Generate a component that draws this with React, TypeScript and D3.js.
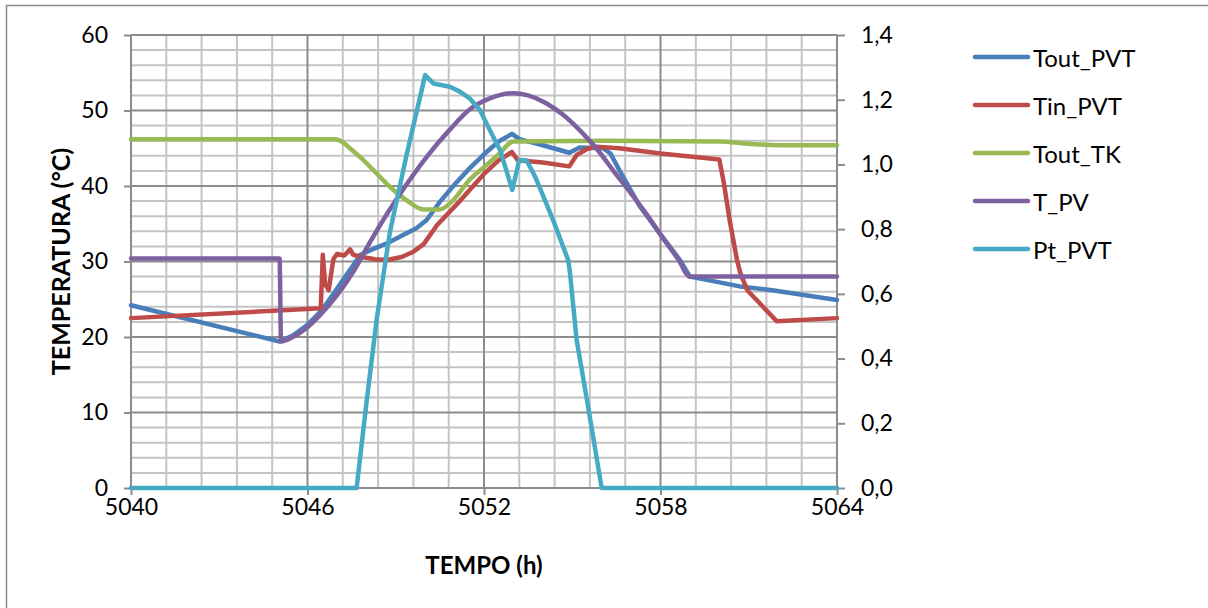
import * as d3 from "d3";
import React, { useRef, useEffect } from "react";

// series: hours + values
const toutPvtHours = [5040, 5045.05, 5045.5, 5046, 5046.5, 5047, 5047.5, 5047.8, 5048.2, 5048.7, 5049.2, 5049.7, 5050.05, 5050.5, 5051, 5051.5, 5052, 5052.5, 5052.95, 5053.2, 5054, 5054.9, 5055.25, 5056.05, 5056.3, 5056.6, 5057.3, 5058, 5058.66, 5059, 5060.7, 5061.8, 5064];
const toutPvtValues = [24.2, 19.4, 20.2, 21.6, 23.6, 26.4, 29.2, 30.9, 31.6, 32.4, 33.4, 34.4, 35.5, 37.9, 40.2, 42.3, 44.2, 45.9, 46.9, 46.2, 45.4, 44.4, 45.1, 45.0, 44.3, 42.1, 37.3, 33.6, 30.2, 28.0, 26.7, 26.2, 24.9];

const tinPvtHours = [5040, 5046.45, 5046.52, 5046.6, 5046.72, 5046.88, 5047, 5047.25, 5047.45, 5047.55, 5047.85, 5048.3, 5048.7, 5049.2, 5049.6, 5049.95, 5050.4, 5051.2, 5051.52, 5052, 5052.5, 5052.95, 5053.15, 5054, 5054.9, 5055.15, 5055.5, 5055.8, 5056.6, 5058, 5060, 5060.15, 5060.35, 5060.6, 5060.72, 5060.95, 5061.95, 5064];
const tinPvtValues = [22.5, 23.8, 30.9, 27.0, 26.2, 30.3, 31.0, 30.8, 31.6, 30.9, 30.6, 30.3, 30.2, 30.6, 31.3, 32.3, 34.8, 38.1, 39.5, 41.6, 43.4, 44.5, 43.4, 43.1, 42.6, 44.1, 44.9, 45.2, 45.0, 44.3, 43.5, 40.5, 35.5, 30.2, 28.4, 26.2, 22.1, 22.5];

const toutTkHours = [5040, 5046.95, 5047.2, 5047.5, 5047.8, 5048.24, 5048.8, 5049.37, 5049.94, 5050.5, 5050.95, 5051.5, 5052, 5052.5, 5053, 5056, 5060, 5061, 5062, 5064];
const toutTkValues = [46.2, 46.2, 45.8, 44.8, 43.8, 42.1, 39.9, 38.1, 36.9, 36.9, 38.1, 40.8, 42.5, 44.2, 45.9, 46.0, 45.9, 45.6, 45.4, 45.4];

const tPvHours = [5040, 5045.05, 5045.1, 5045.5, 5046, 5046.4, 5047, 5047.55, 5048.1, 5048.7, 5049.4, 5050.1, 5050.8, 5051.5, 5052.2, 5053, 5053.5, 5054.1, 5054.7, 5055.3, 5055.9, 5056.4, 5057, 5057.5, 5058.1, 5058.6, 5059, 5064];
const tPvValues = [30.4, 30.4, 19.4, 20.0, 21.3, 22.8, 25.5, 28.6, 32.4, 36.3, 40.4, 44.1, 47.3, 50.1, 51.6, 52.3, 52.0, 51.0, 49.4, 47.2, 44.6, 42.0, 39.0, 36.4, 33.0, 30.3, 28.0, 28.0];

const ptPvtHours = [5040, 5047.67, 5048, 5048.35, 5048.8, 5049.37, 5050, 5050.28, 5050.84, 5051.18, 5051.5, 5051.86, 5052.2, 5052.55, 5052.96, 5053.2, 5053.45, 5053.75, 5054.35, 5054.86, 5054.92, 5055.15, 5055.5, 5056, 5064];
const ptPvtValues = [0, 0, 0.26, 0.52, 0.79, 1.03, 1.276, 1.25, 1.24, 1.225, 1.205, 1.168, 1.106, 1.044, 0.921, 1.014, 1.012, 0.96, 0.828, 0.705, 0.668, 0.457, 0.272, 0, 0];

const seriesNames = ["Tout_PVT", "Tin_PVT", "Tout_TK", "T_PV", "Pt_PVT"];
const xTicks = [5040, 5046, 5052, 5058, 5064];
const leftTicks = [0, 10, 20, 30, 40, 50, 60];
const rightTicks = [0, 0.2, 0.4, 0.6, 0.8, 1.0, 1.2, 1.4];

const colors = ["#4a7ebb", "#be4b48", "#98b954", "#7d60a0", "#46aac5"];
const font = "Lato, 'Open Sans', sans-serif";

export default function App() {
  const ref = useRef<SVGSVGElement>(null);

  useEffect(() => {
    const width = 1208, height = 608;
    const margin = { left: 131, right: 371, top: 35, bottom: 120 };
    const svg = d3.select(ref.current)
      .attr("width", width)
      .attr("height", height);
    svg.selectAll("*").remove();

    const x = d3.scaleLinear().domain([5040, 5064]).range([margin.left, width - margin.right]);
    const yL = d3.scaleLinear().domain([0, 60]).range([height - margin.bottom, margin.top]);
    const yR = d3.scaleLinear().domain([0, 1.4]).range([height - margin.bottom, margin.top]);

    svg.append("rect").attr("width", width).attr("height", height).attr("fill", "#fff");
    // outer chart border (runs past the frame on right/bottom)
    svg.append("rect")
      .attr("x", 6.5).attr("y", 5.5).attr("width", 1300).attr("height", 700)
      .attr("fill", "none").attr("stroke", "#8c8c8c").attr("stroke-width", 1.5);

    // grid: minor first, major on top
    const grid = svg.append("g");
    const minorX = d3.range(0, 21).map((k) => 5040 + k * 1.2);
    const minorY = d3.range(0, 31).map((k) => k * 2);
    grid.selectAll(".vminor").data(minorX.filter((_, i) => i % 5 !== 0)).enter().append("line")
      .attr("x1", (d) => x(d)).attr("x2", (d) => x(d))
      .attr("y1", yL(0)).attr("y2", yL(60))
      .attr("stroke", "#c4c4c4").attr("stroke-width", 2);
    grid.selectAll(".hminor").data(minorY.filter((d) => d % 10 !== 0)).enter().append("line")
      .attr("x1", x(5040)).attr("x2", x(5064))
      .attr("y1", (d) => yL(d)).attr("y2", (d) => yL(d))
      .attr("stroke", "#c4c4c4").attr("stroke-width", 2);
    grid.selectAll(".vmajor").data(xTicks).enter().append("line")
      .attr("x1", (d) => x(d)).attr("x2", (d) => x(d))
      .attr("y1", yL(0)).attr("y2", yL(60))
      .attr("stroke", "#8c8c8c").attr("stroke-width", 2);
    grid.selectAll(".hmajor").data(leftTicks).enter().append("line")
      .attr("x1", x(5040)).attr("x2", x(5064))
      .attr("y1", (d) => yL(d)).attr("y2", (d) => yL(d))
      .attr("stroke", "#8c8c8c").attr("stroke-width", 2);

    // axes
    const axisStyle = (g: any) => {
      g.select(".domain").remove();
      g.selectAll(".tick line").attr("stroke", "#8c8c8c").attr("stroke-width", 2);
      g.selectAll(".tick text").attr("fill", "#000").style("font-family", font).style("font-size", "23px");
    };
    svg.append("g")
      .attr("transform", `translate(${margin.left},0)`)
      .call(d3.axisLeft(yL).tickValues(leftTicks).tickSize(7).tickPadding(16).tickFormat(d3.format("d")))
      .call(axisStyle);
    svg.append("g")
      .attr("transform", `translate(${width - margin.right},0)`)
      .call(d3.axisRight(yR).tickValues(rightTicks).tickSize(8).tickPadding(16)
        .tickFormat((d: any) => d3.format(".1f")(d).replace(".", ",")))
      .call(axisStyle);
    svg.append("g")
      .attr("transform", `translate(0,${height - margin.bottom})`)
      .call(d3.axisBottom(x).tickValues(xTicks).tickSize(7).tickPadding(4).tickFormat(d3.format("d")))
      .call(axisStyle);
    svg.append("line")
      .attr("x1", x(5064)).attr("x2", x(5064)).attr("y1", yL(0)).attr("y2", yL(60))
      .attr("stroke", "#8c8c8c").attr("stroke-width", 2);

    // axis titles
    svg.append("text")
      .attr("transform", `translate(60,${(yL(0) + yL(60)) / 2}) rotate(-90)`)
      .attr("text-anchor", "middle").attr("dominant-baseline", "central")
      .style("font-family", font).style("font-size", "25px").style("font-weight", "bold")
      .text("TEMPERATURA (°C)");
    svg.append("text")
      .attr("x", (x(5040) + x(5064)) / 2).attr("y", 564)
      .attr("text-anchor", "middle").attr("dominant-baseline", "central")
      .style("font-family", font).style("font-size", "24px").style("font-weight", "bold")
      .text("TEMPO (h)");

    // series (smooth curves only for the two arcs, straight segments elsewhere)
    const series = [
      { h: toutPvtHours, v: toutPvtValues, y: yL, curve: d3.curveLinear },
      { h: tinPvtHours, v: tinPvtValues, y: yL, curve: d3.curveLinear },
      { h: toutTkHours, v: toutTkValues, y: yL, curve: d3.curveMonotoneX },
      { h: tPvHours, v: tPvValues, y: yL, curve: d3.curveMonotoneX },
      { h: ptPvtHours, v: ptPvtValues, y: yR, curve: d3.curveLinear },
    ];
    series.forEach((s, i) => {
      const line = d3.line<number>()
        .x((_, j) => x(s.h[j]))
        .y((d) => s.y(d))
        .curve(s.curve);
      svg.append("path")
        .datum(s.v)
        .attr("d", line)
        .attr("fill", "none")
        .attr("stroke", colors[i])
        .attr("stroke-width", 4.5)
        .attr("stroke-linejoin", "round")
        .attr("stroke-linecap", "round");
    });

    // legend
    const legend = svg.append("g");
    seriesNames.forEach((name, i) => {
      const ly = 57 + i * 48;
      legend.append("line")
        .attr("x1", 975).attr("x2", 1028).attr("y1", ly).attr("y2", ly)
        .attr("stroke", colors[i]).attr("stroke-width", 4.5).attr("stroke-linecap", "round");
      legend.append("text")
        .attr("x", 1033).attr("y", ly).attr("dominant-baseline", "central")
        .style("font-family", font).style("font-size", "24px")
        .text(name);
    });
  }, []);

  return <svg ref={ref} style={{ position: "absolute", left: 0, top: 0 }} />;
}
